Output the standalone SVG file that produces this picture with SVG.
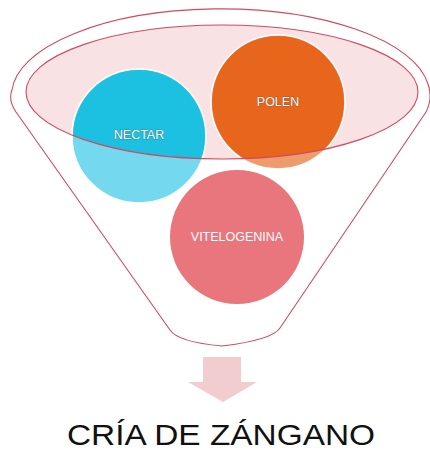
<svg xmlns="http://www.w3.org/2000/svg" width="430" height="453" viewBox="0 0 430 453">
  <style>
    .line{fill:none;stroke:#D04A60;stroke-width:1.1}
    .lbl{font-family:"Liberation Sans",Arial,sans-serif;font-size:12.5px;fill:#ffffff;text-anchor:middle;dominant-baseline:central}
    .sh{stroke:#4a4a4a;stroke-width:0.5;paint-order:stroke}
    .ring{stroke:#ffffff;stroke-width:1.5}
    .title{font-family:"Liberation Sans",Arial,sans-serif;font-size:30px;fill:#111111;text-anchor:middle}
  </style>
  <defs>
    <clipPath id="inner">
      <ellipse cx="222" cy="92" rx="196" ry="67"/>
    </clipPath>
  </defs>
  <rect width="430" height="453" fill="#ffffff"/>

  <g id="funnel">
    <path class="line" d="M16,112 Q8,100 12,90 A209 86 0 0 1 428,84 Q433,98 426,112 L280,328 Q272,340 222,346 Q178,342 170,330 Z"/>
    <ellipse cx="222" cy="92" rx="196" ry="67" fill="#F8E2E4"/>
  </g>

  <g id="node-nectar">
    <circle class="ring" cx="139" cy="136" r="67" fill="#74D9EE"/>
    <circle cx="139" cy="136" r="66" fill="#1CC0E0" clip-path="url(#inner)"/>
    <text class="lbl sh" x="139" y="135">NECTAR</text>
  </g>

  <g id="node-polen">
    <circle class="ring" cx="278" cy="102" r="67" fill="#EF9C6C"/>
    <circle cx="278" cy="102" r="66" fill="#E8661C" clip-path="url(#inner)"/>
    <text class="lbl sh" x="278" y="102">POLEN</text>
  </g>

  <g id="node-vitelogenina">
    <circle cx="237" cy="237" r="67" fill="#E9757D"/>
    <text class="lbl" x="237" y="237">VITELOGENINA</text>
  </g>

  <ellipse class="line" cx="222" cy="92" rx="196" ry="67"/>

  <g id="connectors">
    <path d="M203,357 L241,357 L241,382 L257,382 L223,402 L188,382 L203,382 Z" fill="#F2CDCF"/>
  </g>

  <g id="result">
    <text class="title" x="221" y="445" textLength="308" lengthAdjust="spacingAndGlyphs">CRÍA DE ZÁNGANO</text>
  </g>
</svg>
